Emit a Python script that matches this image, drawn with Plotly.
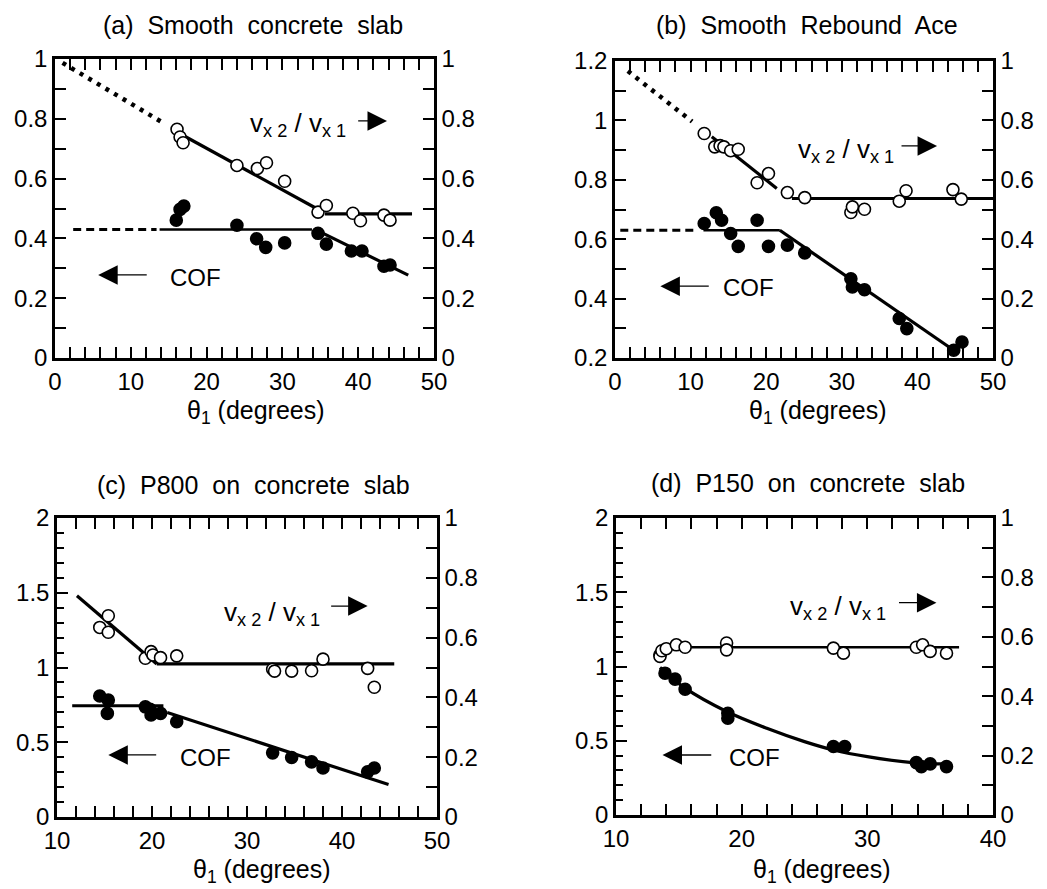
import plotly.graph_objects as go

# ---------------- Panel (a): Smooth concrete slab ----------------
a_vx_x = [16.1, 16.5, 16.9, 24.0, 26.7, 27.9, 30.3, 34.7, 35.8, 39.3, 40.3, 43.4, 44.2]
a_vx_y = [0.765, 0.739, 0.720, 0.644, 0.634, 0.653, 0.591, 0.488, 0.510, 0.484, 0.459, 0.478, 0.461]
a_cof_x = [16.0, 16.5, 17.0, 24.0, 26.6, 27.8, 30.3, 34.7, 35.8, 39.1, 40.5, 43.4, 44.2]
a_cof_y = [0.461, 0.497, 0.508, 0.444, 0.399, 0.370, 0.385, 0.417, 0.381, 0.358, 0.358, 0.307, 0.311]
a_vx_dot_x, a_vx_dot_y = [1.0, 14.3], [0.987, 0.786]
a_vx_fit1_x, a_vx_fit1_y = [16.5, 34.5], [0.75, 0.50]
a_vx_fit2_x, a_vx_fit2_y = [35.6, 47.1], [0.482, 0.482]
a_cof_dash_x, a_cof_dash_y = [2.4, 13.4], [0.43, 0.43]
a_cof_fit1_x, a_cof_fit1_y = [13.8, 33.9], [0.43, 0.43]
a_cof_fit2_x, a_cof_fit2_y = [34.3, 46.6], [0.43, 0.277]

# ---------------- Panel (b): Smooth Rebound Ace ----------------
b_vx_x = [11.8, 13.2, 13.9, 14.4, 15.3, 16.3, 18.8, 20.3, 22.8, 25.1, 31.2, 31.4, 33.0, 37.6, 38.5, 44.7, 45.8]
b_vx_y = [0.756, 0.711, 0.715, 0.711, 0.698, 0.703, 0.590, 0.621, 0.557, 0.540, 0.490, 0.509, 0.501, 0.528, 0.563, 0.567, 0.535]
b_cof_x = [11.8, 13.4, 14.1, 15.3, 16.3, 18.8, 20.3, 22.8, 25.1, 31.2, 31.4, 33.0, 37.6, 38.6, 44.8, 45.9]
b_cof_y = [0.653, 0.689, 0.664, 0.619, 0.576, 0.664, 0.576, 0.580, 0.554, 0.467, 0.439, 0.430, 0.333, 0.299, 0.226, 0.254]
b_vx_dot_x, b_vx_dot_y = [1.7, 10.2], [0.966, 0.796]
b_vx_fit1_x, b_vx_fit1_y = [12.8, 21.4], [0.745, 0.571]
b_vx_fit2_x, b_vx_fit2_y = [23.4, 50.0], [0.537, 0.537]
b_cof_dash_x, b_cof_dash_y = [0.7, 10.8], [0.63, 0.63]
b_cof_fit1_x, b_cof_fit1_y = [11.7, 21.8], [0.63, 0.63]
b_cof_fit2_x, b_cof_fit2_y = [21.8, 44.8], [0.63, 0.226]

# ---------------- Panel (c): P800 on concrete slab ----------------
c_vx_x = [14.5, 15.4, 15.4, 19.3, 19.9, 20.1, 20.9, 22.6, 32.7, 32.9, 34.7, 36.8, 38.0, 42.7, 43.4]
c_vx_y = [0.634, 0.673, 0.618, 0.531, 0.553, 0.542, 0.533, 0.539, 0.494, 0.488, 0.488, 0.489, 0.528, 0.497, 0.434]
c_cof_x = [14.5, 15.4, 15.3, 19.3, 19.8, 19.9, 20.9, 22.6, 32.7, 34.7, 36.8, 38.0, 42.7, 43.4]
c_cof_y = [0.809, 0.782, 0.693, 0.737, 0.720, 0.682, 0.693, 0.637, 0.429, 0.398, 0.369, 0.328, 0.302, 0.328]
c_vx_fit1_x, c_vx_fit1_y = [12.1, 20.5], [0.740, 0.512]
c_vx_fit2_x, c_vx_fit2_y = [20.5, 45.5], [0.512, 0.512]
c_cof_fit1_x, c_cof_fit1_y = [11.6, 21.2], [0.744, 0.744]
c_cof_fit2_x, c_cof_fit2_y = [21.6, 44.9], [0.699, 0.217]

# ---------------- Panel (d): P150 on concrete slab ----------------
d_vx_x = [13.5, 13.65, 14.0, 14.8, 15.5, 18.8, 18.8, 27.3, 28.1, 33.9, 34.4, 35.0, 36.3]
d_vx_y = [0.534, 0.553, 0.560, 0.573, 0.565, 0.579, 0.556, 0.562, 0.545, 0.565, 0.573, 0.551, 0.545]
d_cof_x = [13.5, 13.9, 14.7, 15.5, 18.9, 18.9, 27.3, 28.2, 33.9, 34.3, 35.0, 36.3]
d_cof_y = [1.079, 0.955, 0.915, 0.847, 0.685, 0.652, 0.461, 0.461, 0.353, 0.326, 0.344, 0.326]
d_vx_fit_x, d_vx_fit_y = [13.3, 37.3], [0.565, 0.565]
d_cof_curve_x = [13.5, 15.5, 18.8, 22.0, 25.0, 27.3, 30.0, 33.6, 36.2]
d_cof_curve_y = [0.993, 0.854, 0.697, 0.584, 0.494, 0.438, 0.393, 0.353, 0.344]

titles = ["(a)  Smooth  concrete  slab", "(b)  Smooth  Rebound  Ace",
          "(c)  P800  on  concrete  slab", "(d)  P150  on  concrete  slab"]
x_title = "θ<sub>1</sub> (degrees)"

FONT = "Liberation Sans, Arial, Helvetica, sans-serif"
fig = go.Figure()


def pts(x, y, xa, ya, filled):
    fig.add_trace(go.Scatter(
        x=x, y=y, xaxis=xa, yaxis=ya, mode="markers", showlegend=False,
        marker=dict(size=12, symbol="circle",
                    color="black" if filled else "white",
                    line=dict(color="black", width=1.6)),
        cliponaxis=False))


def line(x, y, xa, ya, dash="solid", width=3.2, shape="linear"):
    fig.add_trace(go.Scatter(
        x=x, y=y, xaxis=xa, yaxis=ya, mode="lines", showlegend=False,
        line=dict(color="black", width=width, dash=dash, shape=shape)))


DOT = "4px,6px"
DASH = "8px,5px"

line(a_vx_dot_x, a_vx_dot_y, "x", "y2", dash=DOT, width=4.5)
line(a_vx_fit1_x, a_vx_fit1_y, "x", "y2")
line(a_vx_fit2_x, a_vx_fit2_y, "x", "y2")
line(a_cof_dash_x, a_cof_dash_y, "x", "y", dash=DASH, width=3)
line(a_cof_fit1_x, a_cof_fit1_y, "x", "y", width=2.5)
line(a_cof_fit2_x, a_cof_fit2_y, "x", "y")
pts(a_vx_x, a_vx_y, "x", "y2", False)
pts(a_cof_x, a_cof_y, "x", "y", True)

line(b_vx_dot_x, b_vx_dot_y, "x2", "y4", dash=DOT, width=4.5)
line(b_vx_fit1_x, b_vx_fit1_y, "x2", "y4")
line(b_vx_fit2_x, b_vx_fit2_y, "x2", "y4")
line(b_cof_dash_x, b_cof_dash_y, "x2", "y3", dash=DASH, width=3)
line(b_cof_fit1_x, b_cof_fit1_y, "x2", "y3", width=2.5)
line(b_cof_fit2_x, b_cof_fit2_y, "x2", "y3")
pts(b_vx_x, b_vx_y, "x2", "y4", False)
pts(b_cof_x, b_cof_y, "x2", "y3", True)

line(c_vx_fit1_x, c_vx_fit1_y, "x3", "y6")
line(c_vx_fit2_x, c_vx_fit2_y, "x3", "y6")
line(c_cof_fit1_x, c_cof_fit1_y, "x3", "y5")
line(c_cof_fit2_x, c_cof_fit2_y, "x3", "y5")
pts(c_vx_x, c_vx_y, "x3", "y6", False)
pts(c_cof_x, c_cof_y, "x3", "y5", True)

line(d_vx_fit_x, d_vx_fit_y, "x4", "y8", width=2.5)
line(d_cof_curve_x, d_cof_curve_y, "x4", "y7", shape="spline")
pts(d_vx_x, d_vx_y, "x4", "y8", False)
pts(d_cof_x, d_cof_y, "x4", "y7", True)

tickfont = dict(family=FONT, size=24, color="black")


def xax(dom, anchor, rng, dtick, minor):
    return dict(domain=dom, anchor=anchor, range=rng, dtick=dtick, tick0=0,
                ticks="inside", ticklen=11, tickwidth=2, tickcolor="black", showline=True,
                linewidth=2.5, linecolor="black", mirror="allticks", automargin=False,
                showgrid=False, zeroline=False, tickfont=tickfont,
                minor=dict(ticks="inside", ticklen=6, tickwidth=2, tickcolor="black",
                           dtick=minor, showgrid=False))


def yax(dom, anchor, rng, dtick, minor, majlen=11, minlen=11, side="left", overlay=None):
    d = dict(domain=dom, anchor=anchor, range=rng, dtick=dtick, tick0=0,
             ticks="inside", ticklen=majlen, tickwidth=2, tickcolor="black", showline=True,
             linewidth=2.5, linecolor="black", side=side, automargin=False,
             showgrid=False, zeroline=False, tickfont=tickfont,
             minor=dict(ticks="inside", ticklen=minlen, tickwidth=2, tickcolor="black",
                        dtick=minor, showgrid=False))
    if overlay:
        d["overlaying"] = overlay
    return d


# the page body has an 8 px margin: the figure is shifted by OFF inside the window
OFF = 8
W, H = 1047 - OFF, 889 - OFF
def fx(a, b):
    return [(a - OFF) / W, (b - OFF) / W]
def fy(top, bot):
    return [1 - (bot - OFF) / H, 1 - (top - OFF) / H]
def px_x(p):
    return (p - OFF) / W
def px_y(p):
    return 1 - (p - OFF) / H

dom_a = (fx(55, 434), fy(59, 358))
dom_b = (fx(615, 993), fy(61, 358))
dom_c = (fx(57, 437), fy(518, 817))
dom_d = (fx(616, 993), fy(518, 815))

fig.update_layout(
    width=W, height=H, margin=dict(l=0, r=0, t=0, b=0),
    paper_bgcolor="white", plot_bgcolor="rgba(0,0,0,0)",
    font=dict(family=FONT, size=22, color="black"),
    xaxis=xax(dom_a[0], "y", [0, 50], 10, 2),
    yaxis=yax(dom_a[1], "x", [0, 1], 0.2, 0.1),
    yaxis2=yax(dom_a[1], "x", [0, 1], 0.2, 0.1, side="right", overlay="y"),
    xaxis2=xax(dom_b[0], "y3", [0, 50], 10, 2),
    yaxis3=yax(dom_b[1], "x2", [0.2, 1.2], 0.2, 0.1),
    yaxis4=yax(dom_b[1], "x2", [0, 1], 0.2, 0.1, side="right", overlay="y3"),
    xaxis3=xax(dom_c[0], "y5", [10, 50], 10, 2),
    yaxis5=yax(dom_c[1], "x3", [0, 2], 0.5, 0.1, majlen=11, minlen=7),
    yaxis6=yax(dom_c[1], "x3", [0, 1], 0.2, 0.1, side="right", overlay="y5"),
    xaxis4=xax(dom_d[0], "y7", [10, 40], 10, 2),
    yaxis7=yax(dom_d[1], "x4", [0, 2], 0.5, 0.1, majlen=11, minlen=7),
    yaxis8=yax(dom_d[1], "x4", [0, 1], 0.2, 0.1, side="right", overlay="y7"),
)

ann = []
title_pos = [(253, 25), (807, 25), (253, 485), (808, 483)]
for t, (px, py) in zip(titles, title_pos):
    ann.append(dict(text=t, x=px_x(px), y=px_y(py), xref="paper", yref="paper",
                    showarrow=False, xanchor="center", yanchor="middle",
                    font=dict(family=FONT, size=25)))
xt_pos = [(256, 412), (818, 412), (262, 871), (822, 871)]
for (px, py) in xt_pos:
    ann.append(dict(text=x_title, x=px_x(px), y=px_y(py), xref="paper", yref="paper",
                    showarrow=False, xanchor="center", yanchor="middle",
                    font=dict(family=FONT, size=25)))

vx_label = "v<sub>x 2</sub> / v<sub>x 1</sub>"
panels = [
    ("x", "y", 32.1, 0.78, 18.5, 0.27, (39.8, 43.8, 0.793), (12.3, 5.7, 0.278)),
    ("x2", "y3", 30.6, 0.90, 17.6, 0.439, (37.7, 42.6, 0.914), (12.6, 6.0, 0.442)),
    ("x3", "y5", 32.6, 1.36, 25.6, 0.40, (38.7, 42.7, 1.411), (20.6, 15.4, 0.415)),
    ("x4", "y7", 27.7, 1.40, 21.0, 0.39, (32.4, 35.5, 1.43), (17.7, 13.7, 0.404)),
]
for xr, yr, tx, ty, cx, cy, ra, la in panels:
    ann.append(dict(text=vx_label, x=tx, y=ty, xref=xr, yref=yr, showarrow=False,
                    font=dict(family=FONT, size=26)))
    ann.append(dict(text="COF", x=cx, y=cy, xref=xr, yref=yr, showarrow=False,
                    font=dict(family=FONT, size=24)))
    for (t0, t1, yy) in (ra, la):
        ann.append(dict(text="", x=t1, y=yy, ax=t0, ay=yy, xref=xr, yref=yr,
                        axref=xr, ayref=yr, showarrow=True, arrowhead=2, arrowsize=3,
                        arrowwidth=1.3, arrowcolor="black", standoff=0, startstandoff=0))
fig.update_layout(annotations=ann)

fig.write_html("out.html")
